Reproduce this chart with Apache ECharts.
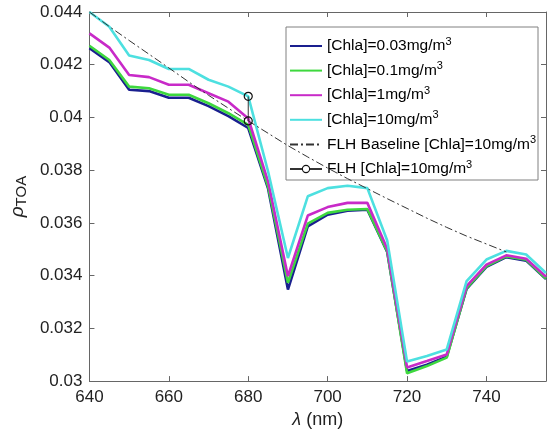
<!DOCTYPE html>
<html><head><meta charset="utf-8">
<script src="https://cdn.jsdelivr.net/npm/echarts@6/dist/echarts.min.js"></script>
<style>html,body{margin:0;padding:0;background:#fff}#c{width:550px;height:434px}</style>
</head><body><div id="c"></div>
<script>
var wavelengths = [640,645,650,655,660,665,670,675,680,685,690,695,700,705,710,715,720,725,730,735,740,745,750,755];
var chla003 = [0.04263,0.04210,0.04105,0.04100,0.04075,0.04075,0.04043,0.04005,0.03960,0.03730,0.03347,0.03587,0.03631,0.03646,0.03650,0.03490,0.03038,0.03062,0.03093,0.03350,0.03433,0.03470,0.03457,0.03387];
var chla01 = [0.04272,0.04218,0.04117,0.04111,0.04086,0.04086,0.04054,0.04016,0.03972,0.03738,0.03373,0.03597,0.03638,0.03650,0.03653,0.03492,0.03030,0.03057,0.03089,0.03353,0.03436,0.03473,0.03460,0.03389];
var chla1 = [0.04319,0.04265,0.04161,0.04153,0.04124,0.04124,0.04092,0.04060,0.03996,0.03757,0.03398,0.03628,0.03660,0.03676,0.03676,0.03502,0.03052,0.03076,0.03101,0.03360,0.03442,0.03477,0.03464,0.03396];
var chla10 = [0.04400,0.04344,0.04235,0.04218,0.04184,0.04184,0.04143,0.04117,0.04080,0.03795,0.03467,0.03701,0.03732,0.03741,0.03732,0.03533,0.03074,0.03095,0.03120,0.03379,0.03461,0.03494,0.03480,0.03410];
var baselineWl = [640,645,650,655,660,665,670,675,680,685,690,695,700,705,710,715,720,725,730,735,740,745];
var baseline10 = [0.04400,0.04345,0.04292,0.04240,0.04188,0.04135,0.04084,0.04035,0.03987,0.03940,0.03893,0.03850,0.03808,0.03768,0.03730,0.03692,0.03655,0.03618,0.03583,0.03550,0.03520,0.03490];
var flhWl = [680,680];
var flhVal = [0.04080,0.03987];
var seriesNames = ['[Chla]=0.03mg/m3','[Chla]=0.1mg/m3','[Chla]=1mg/m3','[Chla]=10mg/m3','FLH Baseline [Chla]=10mg/m3','FLH [Chla]=10mg/m3'];
var xTicks = {min:640, max:755, interval:20};
var yTicks = {min:0.030, max:0.044, interval:0.002};

function pairs(xs, ys){ return xs.map(function(x,i){return [x, ys[i]];}); }
var FONT = 'Liberation Sans, Arial, Helvetica, sans-serif';
var axisCol = '#666';

function lineSeries(name, ys, color){
  return {name:name, type:'line', data:pairs(wavelengths, ys), showSymbol:false, symbol:'none',
    lineStyle:{color:color, width:2.6}, itemStyle:{color:color}, animation:false, z:3};
}

var legendData = seriesNames.map(function(n, i){
  if (i === 5) return {name:n, itemStyle:{color:'#fff', borderColor:'#111', borderWidth:1.1}};
  return {name:n, itemStyle:{opacity:0}};
});

var chart = echarts.init(document.getElementById('c'), null, {renderer:'canvas'});
chart.setOption({
  animation:false,
  backgroundColor:'#fff',
  grid:{left:78, right:4, top:12, bottom:52, containLabel:false},
  legend:{
    orient:'vertical', left:286, top:27,
    backgroundColor:'#fff', borderColor:'#808080', borderWidth:1,
    padding:[9,2,3,3], itemGap:6.6, itemWidth:32, itemHeight:9,
    data:legendData,
    textStyle:{fontFamily:FONT, fontSize:15.5, color:'#000',
      rich:{sup:{fontFamily:FONT, fontSize:11, color:'#000', verticalAlign:'top', padding:[0,0,9,0]}}},
    formatter:function(n){ return n.replace(/m3$/, 'm{sup|3}'); }
  },
  xAxis:[{
    type:'value', min:xTicks.min, max:xTicks.max, interval:xTicks.interval,
    name:'{i|λ} (nm)', nameLocation:'middle', nameGap:28,
    nameTextStyle:{fontFamily:FONT, fontSize:18, color:'#222', rich:{i:{fontFamily:FONT, fontSize:18, fontStyle:'italic', color:'#222'}}},
    axisLine:{show:true, onZero:false, lineStyle:{color:axisCol, width:1}},
    axisTick:{show:true, inside:true, length:5, lineStyle:{color:axisCol}},
    axisLabel:{fontFamily:FONT, fontSize:17, color:'#222', margin:8, showMaxLabel:false},
    splitLine:{show:false}
  },{
    type:'value', position:'top', min:xTicks.min, max:xTicks.max, interval:xTicks.interval,
    axisLine:{show:true, onZero:false, lineStyle:{color:axisCol, width:1}},
    axisTick:{show:true, inside:true, length:5, lineStyle:{color:axisCol}},
    axisLabel:{show:false}, splitLine:{show:false}
  }],
  yAxis:[{
    type:'value', min:yTicks.min, max:yTicks.max, interval:yTicks.interval,
    name:'{i|ρ}{s|TOA}', nameLocation:'middle', nameGap:52, nameRotate:90,
    nameTextStyle:{fontFamily:FONT, fontSize:18, color:'#222',
      rich:{i:{fontFamily:FONT, fontSize:19, fontStyle:'italic', color:'#222'},
            s:{fontFamily:FONT, fontSize:15, color:'#222', verticalAlign:'bottom', padding:[8,0,0,0]}}},
    axisLine:{show:true, onZero:false, lineStyle:{color:axisCol, width:1}},
    axisTick:{show:true, inside:true, length:5, lineStyle:{color:axisCol}},
    axisLabel:{fontFamily:FONT, fontSize:17, color:'#222', margin:7},
    splitLine:{show:false}
  },{
    type:'value', position:'right', min:yTicks.min, max:yTicks.max, interval:yTicks.interval,
    axisLine:{show:true, onZero:false, lineStyle:{color:axisCol, width:1}},
    axisTick:{show:true, inside:true, length:5, lineStyle:{color:axisCol}},
    axisLabel:{show:false}, splitLine:{show:false}
  }],
  series:[
    lineSeries(seriesNames[0], chla003, '#1a1f8f'),
    lineSeries(seriesNames[1], chla01, '#3ed83e'),
    lineSeries(seriesNames[2], chla1, '#c82ac8'),
    lineSeries(seriesNames[3], chla10, '#4de0e0'),
    {name:seriesNames[4], type:'line', data:pairs(baselineWl, baseline10), symbol:'none', showSymbol:false,
      lineStyle:{color:'#333', width:1, type:[8,3,2,3]}, itemStyle:{color:'#333'}, z:4},
    {name:seriesNames[5], type:'line', data:pairs(flhWl, flhVal), symbol:'circle', symbolSize:8, showSymbol:true,
      lineStyle:{color:'#333', width:1}, itemStyle:{color:'rgba(0,0,0,0)', borderColor:'#111', borderWidth:1.2}, z:5}
  ]
});
</script></body></html>
